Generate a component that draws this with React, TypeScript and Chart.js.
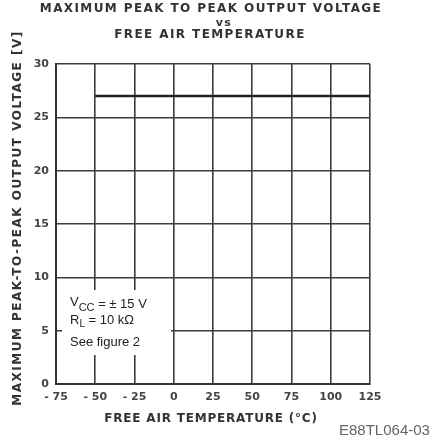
import React, { useEffect, useRef } from "react";
import { Chart, registerables } from "chart.js";

Chart.register(...registerables);

const temperatures = [-50, -25, 0, 25, 50, 75, 100, 125];
const maxPeakVoltage = [27, 27, 27, 27, 27, 27, 27, 27];
const xTickValues = [-75, -50, -25, 0, 25, 50, 75, 100, 125];
const xTickLabels = ["- 75", "- 50", "- 25", "0", "25", "50", "75", "100", "125"];
const yTickValues = [0, 5, 10, 15, 20, 25, 30];
const yTickLabels = ["0", "5", "10", "15", "20", "25", "30"];
const titleLines = ["MAXIMUM PEAK TO PEAK OUTPUT VOLTAGE", "vs", "FREE AIR TEMPERATURE"];
const xTitle = "FREE AIR TEMPERATURE (°C)";
const yTitle = "MAXIMUM PEAK-TO-PEAK OUTPUT VOLTAGE [V]";
const figureId = "E88TL064-03";

const textPlugin = {
  id: "textPlugin",
  afterDraw(chart: any) {
    const ctx = chart.ctx as CanvasRenderingContext2D;
    const area = chart.chartArea;
    const cx = (area.left + area.right) / 2;
    ctx.save();

    // white panel behind the conditions note
    ctx.fillStyle = "#fff";
    ctx.fillRect(area.left + 6, 290, 109, 65);

    ctx.fillStyle = "#333";
    ctx.textAlign = "center";
    ctx.textBaseline = "middle";
    (ctx as any).letterSpacing = "1.4px";
    ctx.font = "bold 12px 'DejaVu Sans'";
    ctx.fillText(titleLines[0], cx - 2, 9);
    ctx.font = "bold 11px 'DejaVu Sans'";
    ctx.fillText(titleLines[1], cx + 11, 23);
    ctx.font = "bold 12px 'DejaVu Sans'";
    ctx.fillText(titleLines[2], cx - 3, 35);

    (ctx as any).letterSpacing = "0.8px";
    ctx.fillText(xTitle, cx - 2, 419);

    ctx.save();
    (ctx as any).letterSpacing = "1.5px";
    ctx.translate(18, 218);
    ctx.rotate(-Math.PI / 2);
    ctx.fillText(yTitle, 0, 0);
    ctx.restore();

    (ctx as any).letterSpacing = "0px";
    ctx.fillStyle = "#666";
    ctx.textAlign = "left";
    ctx.font = "15px 'Liberation Sans'";
    ctx.fillText(figureId, 339, 431);

    // conditions note
    ctx.fillStyle = "#222";
    ctx.textBaseline = "alphabetic";
    let x = 70;
    ctx.font = "13px 'Liberation Sans'";
    ctx.fillText("V", x, 306);
    x += ctx.measureText("V").width;
    ctx.font = "11px 'Liberation Sans'";
    ctx.fillText("CC", x, 311);
    x += ctx.measureText("CC").width;
    ctx.font = "13px 'Liberation Sans'";
    ctx.fillText(" = ± 15 V", x, 308);

    x = 70;
    ctx.fillText("R", x, 324);
    x += ctx.measureText("R").width;
    ctx.font = "10px 'Liberation Sans'";
    ctx.fillText("L", x, 327);
    x += ctx.measureText("L").width;
    ctx.font = "13px 'Liberation Sans'";
    ctx.fillText(" = 10 kΩ", x, 324);

    ctx.fillText("See figure 2", 70, 346);
    ctx.restore();
  },
};

export default function App() {
  const canvasRef = useRef<HTMLCanvasElement>(null);

  useEffect(() => {
    document.body.style.margin = "0";
    const canvas = canvasRef.current;
    if (!canvas) return;
    const gridColor = "#3c3c3c";
    const tickFont = { family: "DejaVu Sans", weight: "bold" as const, size: 11 };
    const chart = new Chart(canvas, {
      type: "line",
      data: {
        datasets: [
          {
            data: temperatures.map((t, i) => ({ x: t, y: maxPeakVoltage[i] })),
            borderColor: "#222",
            borderWidth: 2.5,
            pointRadius: 0,
            fill: false,
          },
        ],
      },
      options: {
        animation: false,
        responsive: false,
        devicePixelRatio: 1,
        layout: { padding: { top: 64, right: 71, left: 26.7, bottom: 30.8 } },
        plugins: { legend: { display: false }, tooltip: { enabled: false }, title: { display: false } },
        scales: {
          x: {
            type: "linear",
            min: -75,
            max: 125,
            afterBuildTicks: (s: any) => {
              s.ticks = xTickValues.map((v) => ({ value: v }));
            },
            ticks: {
              padding: 7,
              color: "#444",
              font: tickFont,
              callback: (v: any) => {
                const i = xTickValues.indexOf(Number(v));
                return i >= 0 ? xTickLabels[i] : "";
              },
              maxRotation: 0,
              minRotation: 0,
              autoSkip: false,
            },
            grid: { color: gridColor, lineWidth: 1.6, drawTicks: false },
            border: { color: "#333", width: 2 },
          },
          y: {
            type: "linear",
            min: 0,
            max: 30,
            afterBuildTicks: (s: any) => {
              s.ticks = yTickValues.map((v) => ({ value: v }));
            },
            ticks: {
              padding: 7,
              color: "#444",
              font: tickFont,
              callback: (v: any) => {
                const i = yTickValues.indexOf(Number(v));
                return i >= 0 ? yTickLabels[i] : "";
              },
              autoSkip: false,
            },
            grid: { color: gridColor, lineWidth: 1.6, drawTicks: false },
            border: { color: "#333", width: 2 },
          },
        },
      },
      plugins: [textPlugin],
    });
    return () => chart.destroy();
  }, []);

  return (
    <div style={{ width: 441, height: 442 }}>
      <canvas ref={canvasRef} width={441} height={442} style={{ display: "block", width: 441, height: 442 }} />
    </div>
  );
}
